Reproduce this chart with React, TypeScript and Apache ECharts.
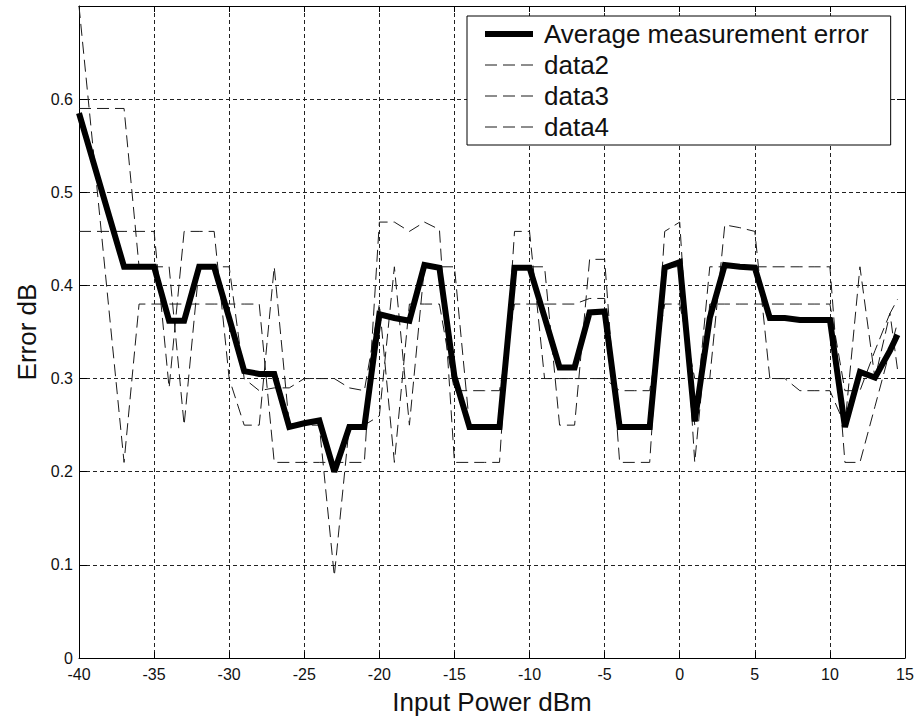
import React, { useEffect, useRef } from "react";
import * as echarts from "echarts";

// Input power (dBm) at which each error value was measured
const inputPower = [
  -40, -39, -38, -37, -36, -35, -34, -33, -32, -31,
  -30, -29, -28, -27, -26, -25, -24, -23, -22, -21,
  -20, -19, -18, -17, -16, -15, -14, -13, -12, -11,
  -10, -9, -8, -7, -6, -5, -4, -3, -2, -1,
  0, 1, 2, 3, 4, 5, 6, 7, 8, 9,
  10, 11, 12, 13, 14, 14.5,
];

const avgError = [
  0.585, 0.53, 0.475, 0.42, 0.42, 0.42, 0.362, 0.362, 0.42, 0.42,
  0.365, 0.308, 0.305, 0.305, 0.248, 0.252, 0.255, 0.2, 0.248, 0.248,
  0.369, 0.365, 0.362, 0.422, 0.419, 0.302, 0.248, 0.248, 0.248, 0.419,
  0.419, 0.366, 0.312, 0.312, 0.371, 0.372, 0.248, 0.248, 0.248, 0.419,
  0.425, 0.254, 0.365, 0.422, 0.42, 0.419, 0.365, 0.365, 0.363, 0.363,
  0.363, 0.248, 0.307, 0.301, 0.33, 0.347,
];

const data2 = [
  0.7, 0.537, 0.373, 0.21, 0.38, 0.38, 0.38, 0.38, 0.38, 0.38,
  0.38, 0.38, 0.38, 0.21, 0.21, 0.21, 0.21, 0.21, 0.21, 0.21,
  0.468, 0.468, 0.458, 0.468, 0.46, 0.21, 0.21, 0.21, 0.21, 0.458,
  0.458, 0.3, 0.3, 0.3, 0.3, 0.3, 0.287, 0.287, 0.287, 0.38,
  0.38, 0.3, 0.3, 0.465, 0.462, 0.458, 0.3, 0.3, 0.287, 0.287,
  0.287, 0.25, 0.42, 0.3, 0.37, 0.385,
];

const data3 = [
  0.59, 0.59, 0.59, 0.59, 0.42, 0.42, 0.42, 0.25, 0.42, 0.42,
  0.42, 0.3, 0.287, 0.29, 0.29, 0.3, 0.3, 0.3, 0.29, 0.287,
  0.38, 0.21, 0.38, 0.38, 0.38, 0.287, 0.287, 0.287, 0.287, 0.38,
  0.38, 0.38, 0.38, 0.38, 0.386, 0.386, 0.25, 0.25, 0.25, 0.42,
  0.42, 0.25, 0.42, 0.42, 0.42, 0.42, 0.42, 0.42, 0.42, 0.42,
  0.42, 0.21, 0.21, 0.27, 0.33, 0.36,
];

const data4 = [
  0.458, 0.458, 0.458, 0.458, 0.458, 0.458, 0.29, 0.458, 0.458, 0.458,
  0.3, 0.25, 0.25, 0.42, 0.25, 0.25, 0.25, 0.088, 0.25, 0.25,
  0.26, 0.42, 0.25, 0.42, 0.42, 0.42, 0.25, 0.25, 0.25, 0.42,
  0.42, 0.42, 0.25, 0.25, 0.428, 0.428, 0.21, 0.21, 0.21, 0.458,
  0.468, 0.21, 0.38, 0.38, 0.38, 0.38, 0.38, 0.38, 0.38, 0.38,
  0.38, 0.287, 0.287, 0.33, 0.37, 0.31,
];

const seriesNames = ["Average measurement error", "data2", "data3", "data4"];

const FONT = "'Liberation Sans', Arial, Helvetica, sans-serif";
const DASH = [12, 6];

function pairs(ys: number[]) {
  return inputPower.map((x, i) => [x, ys[i]]);
}

export default function App() {
  const ref = useRef<HTMLDivElement>(null);

  useEffect(() => {
    if (!ref.current) return;
    const chart = echarts.init(ref.current, null, { renderer: "svg" });

    const dashed = (name: string, ys: number[]) => ({
      name,
      type: "line",
      data: pairs(ys),
      symbol: "none",
      z: 2,
      color: "#1a1a1a",
      itemStyle: { color: "#1a1a1a" },
      lineStyle: { color: "#1a1a1a", width: 1, type: DASH },
    });

    const axisLineStyle = { show: true, onZero: false, lineStyle: { color: "#000", width: 1 } };
    const hiddenMarker = { color: "rgba(0,0,0,0)", borderWidth: 0, opacity: 0 };

    chart.setOption({
      animation: false,
      backgroundColor: "#ffffff",
      textStyle: { fontFamily: FONT },
      grid: { left: 79, right: 18, top: 6, bottom: 61 },
      legend: {
        orient: "vertical",
        left: 467,
        top: 16,
        backgroundColor: "#fff",
        borderColor: "#000",
        borderWidth: 1,
        borderRadius: 0,
        padding: [5, 22, 5, 15],
        itemGap: 5,
        itemWidth: 48,
        itemHeight: 14,
        textStyle: { fontSize: 26, color: "#111", fontFamily: FONT, lineHeight: 26, padding: [0, 0, 0, 6] },
        data: [
          { name: seriesNames[0], itemStyle: hiddenMarker, lineStyle: { width: 6, color: "#000", type: "solid" } },
          { name: seriesNames[1], itemStyle: hiddenMarker, lineStyle: { width: 1, color: "#1a1a1a", type: DASH } },
          { name: seriesNames[2], itemStyle: hiddenMarker, lineStyle: { width: 1, color: "#1a1a1a", type: DASH } },
          { name: seriesNames[3], itemStyle: hiddenMarker, lineStyle: { width: 1, color: "#1a1a1a", type: DASH } },
        ],
      },
      xAxis: [
        {
          type: "value",
          min: -40,
          max: 15,
          interval: 5,
          position: "bottom",
          name: "Input Power dBm",
          nameLocation: "middle",
          nameGap: 31,
          nameTextStyle: { fontSize: 26, color: "#111", fontFamily: FONT },
          axisLine: axisLineStyle,
          axisTick: { show: true, inside: true, length: 6, lineStyle: { color: "#000" } },
          axisLabel: { fontSize: 16, color: "#111", margin: 8, fontFamily: FONT },
          splitLine: { show: true, lineStyle: { color: "#222", width: 1, type: [4, 3] } },
        },
        {
          type: "value",
          min: -40,
          max: 15,
          interval: 5,
          position: "top",
          axisLine: axisLineStyle,
          axisTick: { show: true, inside: true, length: 6, lineStyle: { color: "#000" } },
          axisLabel: { show: false },
          splitLine: { show: false },
        },
      ],
      yAxis: [
        {
          type: "value",
          min: 0,
          max: 0.7,
          interval: 0.1,
          position: "left",
          name: "Error dB",
          nameLocation: "middle",
          nameGap: 38,
          nameTextStyle: { fontSize: 26, color: "#111", fontFamily: FONT },
          axisLine: axisLineStyle,
          axisTick: { show: true, inside: true, length: 8, lineStyle: { color: "#000" } },
          axisLabel: { fontSize: 16, color: "#111", margin: 6, showMaxLabel: false, fontFamily: FONT },
          splitLine: { show: true, lineStyle: { color: "#222", width: 1, type: [4, 3] } },
        },
        {
          type: "value",
          min: 0,
          max: 0.7,
          interval: 0.1,
          position: "right",
          axisLine: axisLineStyle,
          axisTick: { show: true, inside: true, length: 8, lineStyle: { color: "#000" } },
          axisLabel: { show: false },
          splitLine: { show: false },
        },
      ],
      series: [
        {
          name: seriesNames[0],
          type: "line",
          data: pairs(avgError),
          symbol: "none",
          z: 3,
          color: "#000",
          itemStyle: { color: "#000" },
          lineStyle: { color: "#000", width: 6, join: "miter", miterLimit: 3 },
        },
        dashed(seriesNames[1], data2),
        dashed(seriesNames[2], data3),
        dashed(seriesNames[3], data4),
      ],
    });

    return () => chart.dispose();
  }, []);

  return (
    <div
      ref={ref}
      style={{ position: "fixed", left: 0, top: 0, width: 923, height: 720, background: "#fff" }}
    />
  );
}
